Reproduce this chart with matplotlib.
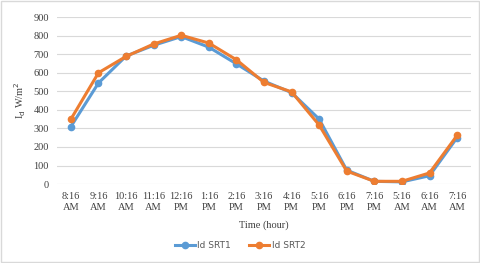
import matplotlib.pyplot as plt
import numpy as np

# Horas de medición
labels = ["8:16\nAM", "9:16\nAM", "10:16\nAM", "11:16\nAM", "12:16\nPM", "1:16\nPM",
          "2:16\nPM", "3:16\nPM", "4:16\nPM", "5:16\nPM", "6:16\nPM", "7:16\nPM",
          "5:16\nAM", "6:16\nAM", "7:16\nAM"]
srt1 = [310, 545, 690, 748, 795, 738, 648, 555, 493, 350, 75, 15, 12, 45, 250]
srt2 = [350, 600, 688, 755, 802, 760, 670, 548, 497, 318, 70, 15, 15, 60, 262]

fig = plt.figure(figsize=(4.8, 2.63), dpi=100)
ax = fig.add_axes([0.119, 0.30, 0.862, 0.635])
x = np.arange(len(labels))
ax.plot(x, srt1, color="#5B9BD5", lw=2.2, marker="o", ms=4.5, label="Id SRT1")
ax.plot(x, srt2, color="#ED7D31", lw=2.2, marker="o", ms=4.5, label="Id SRT2")

ax.set_ylim(0, 900)
ax.set_yticks(range(0, 901, 100))
ax.set_xlim(-0.5, len(labels) - 0.5)
ax.set_xticks(x)
ax.set_xticklabels(labels, family="Liberation Serif", fontsize=7.5, color="#404040")
for t in ax.get_yticklabels():
    t.set_family("Liberation Serif")
    t.set_fontsize(7.5)
    t.set_color("#404040")
ax.tick_params(length=0, pad=6)
ax.grid(axis="y", color="#D9D9D9", lw=0.8)
ax.set_axisbelow(True)
for s in ax.spines.values():
    s.set_visible(False)

ax.set_ylabel(r"I$_\mathrm{d}$ W/m$^2$", family="Liberation Serif", fontsize=7.5, color="#404040")
ax.set_xlabel("Time (hour)", family="Liberation Serif", fontsize=7.5, color="#404040", labelpad=6)
fig.legend(loc="center", bbox_to_anchor=(0.5, 0.065), ncol=2, frameon=False,
           fontsize=6.5, handlelength=2.2, handletextpad=0.3, columnspacing=2,
           labelcolor="#595959")

# Marco exterior
fig.patches.append(plt.Rectangle((0.002, 0.004), 0.996, 0.992, transform=fig.transFigure,
                                 fill=False, edgecolor="#D9D9D9", lw=1))
plt.savefig("out.png")
